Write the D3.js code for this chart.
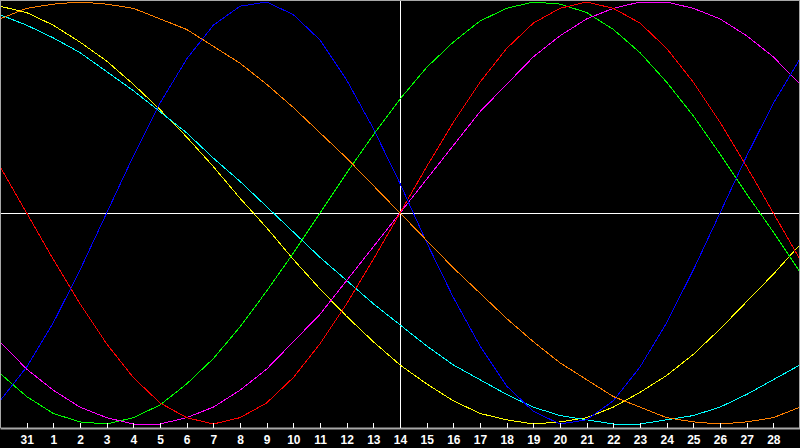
<!DOCTYPE html>
<html lang="en">
<head>
  <meta charset="UTF-8">
  <title>Biorhythm</title>
  <script src="https://d3js.org/d3.v7.min.js"></script>
  <style>
    html, body {
      margin: 0;
      padding: 0;
      background: #000;
      overflow: hidden;
    }
    svg {
      display: block;
    }
    .tick text {
      font-family: "Liberation Sans", Arial, sans-serif;
      font-weight: bold;
      font-size: 12px;
      fill: #fff;
    }
  </style>
</head>
<body>
  <svg id="chart" width="800" height="448"></svg>

  <script>
    // Day labels under the ticks (slot 1 .. 29)
    const tickLabels = ['31', '1', '2', '3', '4', '5', '6', '7', '8', '9', '10', '11', '12', '13', '14',
      '15', '16', '17', '18', '19', '20', '21', '22', '23', '24', '25', '26', '27', '28'];

    // One value per day slot 0..30 (-100 .. 100)
    const physical = [-89, -73, -52, -27, 0, 27, 52, 73, 89, 98, 100, 94, 82, 63, 40, 14,
      -14, -40, -63, -82, -94, -100, -98, -89, -73, -52, -27, 0, 27, 52, 73];
    const emotional = [22, 0, -22, -43, -62, -78, -90, -97, -100, -97, -90, -78, -62, -43, -22, 0,
      22, 43, 62, 78, 90, 97, 100, 97, 90, 78, 62, 43, 22, 0, -22];
    const intellectual = [-76, -87, -95, -99, -100, -97, -91, -81, -69, -54, -37, -19, 0, 19, 37, 54,
      69, 81, 91, 97, 100, 99, 95, 87, 76, 62, 46, 28, 9, -9, -28];
    const intuitive = [-61, -74, -84, -92, -97, -100, -100, -97, -92, -84, -74, -61, -48, -32, -16, 0,
      16, 32, 48, 61, 74, 84, 92, 97, 100, 100, 97, 92, 84, 74, 61];
    const aesthetic = [98, 95, 89, 81, 72, 61, 49, 36, 22, 7, -7, -22, -36, -49, -61, -72,
      -81, -89, -95, -98, -100, -99, -97, -92, -85, -77, -67, -55, -42, -29, -15];
    const awareness = [92, 97, 99, 100, 99, 97, 92, 87, 79, 71, 61, 50, 38, 26, 13, 0,
      -13, -26, -38, -50, -61, -71, -79, -87, -92, -97, -99, -100, -99, -97, -92];
    const spiritual = [94, 89, 83, 76, 67, 58, 48, 38, 26, 15, 3, -9, -21, -32, -43, -53,
      -63, -72, -79, -86, -92, -96, -98, -100, -100, -98, -96, -92, -86, -79, -72];

    const series = [
      { name: 'aesthetic', values: aesthetic, color: '#ffff00' },
      { name: 'spiritual', values: spiritual, color: '#00ffff' },
      { name: 'intellectual', values: intellectual, color: '#00ff00' },
      { name: 'intuitive', values: intuitive, color: '#ff00ff' },
      { name: 'emotional', values: emotional, color: '#ff0000' },
      { name: 'physical', values: physical, color: '#0000ff' },
      { name: 'awareness', values: awareness, color: '#ff8000' }
    ];

    const svg = d3.select('#chart');
    const width = 800;
    const height = 448;
    const axisY = 428;
    const frame = '#a8a8a8';

    const x = d3.scaleLinear().domain([0, 30]).range([0, width]);
    const y = d3.scaleLinear().domain([-100, 100]).range([424, 2]);

    svg.append('rect')
      .attr('width', width)
      .attr('height', height)
      .attr('fill', '#000');

    // Cross at the middle day and the zero line
    svg.append('line')
      .attr('x1', 0).attr('x2', width)
      .attr('y1', Math.round(y(0)) + 0.5).attr('y2', Math.round(y(0)) + 0.5)
      .attr('stroke', '#fff')
      .attr('shape-rendering', 'crispEdges');
    svg.append('line')
      .attr('x1', Math.round(x(15)) + 0.5).attr('x2', Math.round(x(15)) + 0.5)
      .attr('y1', 0).attr('y2', axisY)
      .attr('stroke', '#fff')
      .attr('shape-rendering', 'crispEdges');

    // Curves
    const line = d3.line()
      .x((d, i) => x(i))
      .y(d => y(d));

    svg.selectAll('path.curve')
      .data(series)
      .join('path')
      .attr('class', 'curve')
      .attr('d', d => line(d.values))
      .attr('fill', 'none')
      .attr('stroke', d => d.color)
      .attr('stroke-width', 1)
      .attr('shape-rendering', 'crispEdges');

    // Bottom band and day axis
    svg.append('rect')
      .attr('x', 0).attr('y', axisY)
      .attr('width', width).attr('height', height - axisY)
      .attr('fill', '#000');

    const axis = svg.append('g')
      .attr('transform', `translate(0, ${axisY})`)
      .call(d3.axisBottom(x)
        .tickValues(d3.range(1, 30))
        .tickFormat((d, i) => tickLabels[i])
        .tickSizeInner(-5)
        .tickSizeOuter(0)
        .tickPadding(7));
    axis.select('.domain')
      .attr('stroke', frame)
      .attr('stroke-width', 2);
    axis.selectAll('.tick line')
      .attr('stroke', '#fff')
      .attr('shape-rendering', 'crispEdges');

    // Frame
    svg.append('path')
      .attr('d', `M0.5,${axisY}V0.5H${width - 0.5}V${axisY}`)
      .attr('fill', 'none')
      .attr('stroke', frame)
      .attr('shape-rendering', 'crispEdges');
  </script>
</body>
</html>
